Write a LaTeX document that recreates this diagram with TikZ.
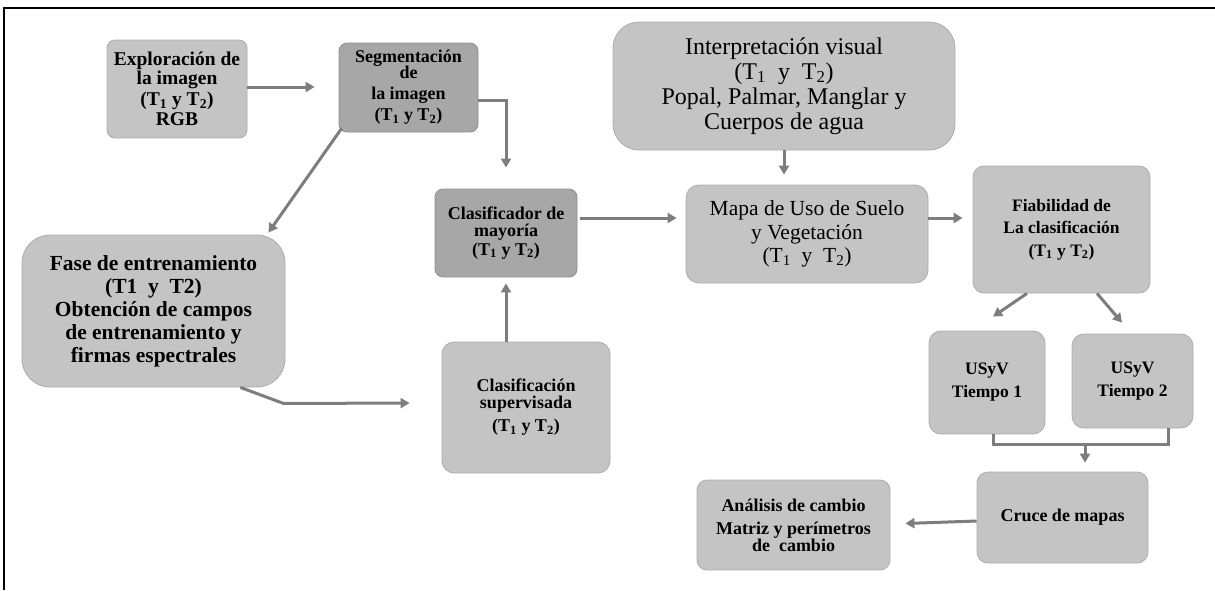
\documentclass[tikz,border=0pt]{standalone}
\usepackage{fontspec}
\setmainfont{Liberation Serif}
\usetikzlibrary{arrows.meta,calc}
% small index digit, as in T1 / T2
\newcommand\lo[1]{\textsubscript{#1}}
\definecolor{boxfill}{RGB}{196,196,196}
\definecolor{boxdark}{RGB}{167,167,167}
\definecolor{boxedge}{RGB}{172,172,172}
\definecolor{linkgray}{RGB}{125,125,125}
\tikzset{
  box/.style={draw=boxedge, line width=0.8pt, fill=boxfill, rounded corners=8pt,
    align=center, inner sep=0pt, font=\bfseries\fontsize{18}{17}\selectfont},
  darkbox/.style={box, fill=boxdark, draw=boxdark!85!black},
  link/.style={draw=linkgray, line width=3pt},
  arr/.style={link, -{Triangle[length=9pt,width=10pt]}},
}
\begin{document}
\begin{tikzpicture}[x=1pt,y=-1pt]
\useasboundingbox (0,0) rectangle (1215,590);
% frame
\draw[line width=1.6pt] (4,590) -- (4,8) -- (1215,8);

% boxes
\node[box, minimum width=140pt, minimum height=98pt,
  font=\bfseries\fontsize{19.5}{17}\selectfont] (expl) at (177,89)
  {Exploración de\\[0pt] la imagen\\[2pt] (T\lo1 y T\lo2)\\[2pt] RGB};
\node[darkbox, minimum width=139pt, minimum height=89pt] (seg) at (408.5,87.5)
  {Segmentación\\[-1pt] de\\[4pt] la imagen\\[4pt] (T\lo1 y T\lo2)};
\node[box, rounded corners=28pt, minimum width=263pt, minimum height=152pt,
  font=\bfseries\fontsize{21.5}{23}\selectfont] (fase) at (153.5,311)
  {Fase de entrenamiento\\ (T1\ \ y\ \ T2)\\ Obtención de campos\\ de entrenamiento y\\ firmas espectrales};
\node[darkbox, minimum width=142pt, minimum height=88pt] (clasm) at (506,233)
  {Clasificador de\\ mayoría\\[2pt] (T\lo1 y T\lo2)};
\node[box, rounded corners=12pt, minimum width=168pt, minimum height=131pt] (sup) at (526,407.5)
  {Clasificación\\ supervisada\\[6pt] (T\lo1 y T\lo2)};
\node[box, rounded corners=26pt, minimum width=342pt, minimum height=128pt,
  font=\fontsize{24}{25}\selectfont] (interp) at (784,86)
  {Interpretación visual\\ (T\lo1\ \ y\ \ T\lo2)\\ Popal, Palmar, Manglar y\\ Cuerpos de agua};
\node[box, rounded corners=13pt, minimum width=242pt, minimum height=98pt,
  font=\fontsize{21.5}{23.5}\selectfont] (mapa) at (807,234)
  {Mapa de Uso de Suelo\\ y Vegetación\\ (T\lo1\ \ y\ \ T\lo2)};
\node[box, rounded corners=11pt, minimum width=177pt, minimum height=127pt,
  font=\bfseries\fontsize{17.5}{22.5}\selectfont] (fiab) at (1061.5,229.5)
  {Fiabilidad de\\ La clasificación\\ (T\lo1 y T\lo2)};
\node[box, rounded corners=12pt, minimum width=116pt, minimum height=103pt,
  font=\bfseries\fontsize{17.5}{23}\selectfont] (t1) at (987,382.5)
  {USyV\\ Tiempo 1};
\node[box, rounded corners=12pt, minimum width=121pt, minimum height=94pt,
  font=\bfseries\fontsize{17.5}{23}\selectfont] (t2) at (1132.5,381)
  {USyV\\ Tiempo 2};
\node[box, rounded corners=11pt, minimum width=171pt, minimum height=91pt] (cruce) at (1062.5,517.5)
  {Cruce de mapas};
\node[box, rounded corners=10pt, minimum width=193pt, minimum height=90pt] (anal) at (793.5,525)
  {Análisis de cambio\\[6pt] Matriz y perímetros\\ de\ \ cambio};

% connectors
\draw[arr, shorten >=24pt] ([yshift=2pt]expl.east) -- ([yshift=2pt]expl.east -| seg.west);
\draw[arr, shorten >=21pt] ([yshift=-12.5pt]seg.east) -| (clasm.north);
\draw[arr] ([shift={(3pt,4pt)}]seg.south west) -- ([shift={(-17pt,2pt)}]fase.north east);
\draw[arr, shorten >=32pt] ([xshift=-45pt]fase.south east) -- ++(43pt,-16pt) -- ([yshift=4.5pt]sup.west);
\draw[arr, shorten >=6pt] (clasm.south |- sup.north) -- (clasm.south);
\draw[arr, shorten <=3pt, shorten >=9pt] ([yshift=15pt]clasm.east) -- ([yshift=15pt]clasm.east -| mapa.west);
\draw[arr, shorten >=10pt] (interp.south) -- (interp.south |- mapa.north);
\draw[arr, shorten >=10pt] ([yshift=16pt]mapa.east) -- ([yshift=16pt]mapa.east -| fiab.west);
\draw[arr] ([xshift=-34.5pt]fiab.south) -- ([shift={(6pt,14pt)}]t1.north);
\draw[arr] ([xshift=35.5pt]fiab.south) -- ([shift={(-10.5pt,11pt)}]t2.north);
\draw[link] ([xshift=6pt]t1.south) -- ++(0,-10pt) -| ([xshift=35.5pt]t2.south);
\coordinate (join) at (1085,444);
\draw[arr, shorten >=9pt] (join) -- (join |- cruce.north);
\draw[arr, shorten >=15pt] ([yshift=-3.5pt]cruce.west) -- ([yshift=1pt]anal.east);
\end{tikzpicture}
\end{document}
